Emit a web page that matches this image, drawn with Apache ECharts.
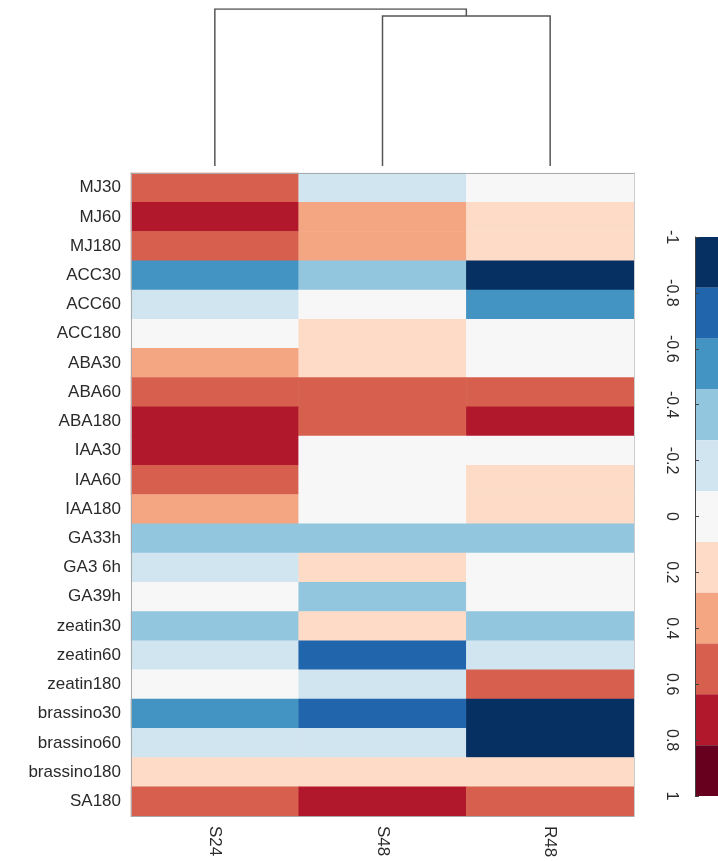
<!DOCTYPE html>
<html>
<head>
<meta charset="utf-8">
<script src="https://cdn.jsdelivr.net/npm/echarts@6/dist/echarts.min.js"></script>
<style>
  html, body { margin: 0; padding: 0; background: #fff; }
  #chart { width: 718px; height: 861px; }
</style>
</head>
<body>
<div id="chart"></div>
<script>
const samples = ["S24", "S48", "R48"];
const treatments = [
  "MJ30", "MJ60", "MJ180", "ACC30", "ACC60", "ACC180", "ABA30", "ABA60",
  "ABA180", "IAA30", "IAA60", "IAA180", "GA33h", "GA3 6h", "GA39h",
  "zeatin30", "zeatin60", "zeatin180", "brassino30", "brassino60",
  "brassino180", "SA180"
];
// correlation per treatment: [S24, S48, R48]
const corr = [
  [0.55, -0.2, 0],
  [0.7, 0.35, 0.2],
  [0.55, 0.35, 0.2],
  [-0.55, -0.35, -0.9],
  [-0.2, 0, -0.55],
  [0, 0.2, 0],
  [0.35, 0.2, 0],
  [0.55, 0.55, 0.55],
  [0.7, 0.55, 0.7],
  [0.7, 0, 0],
  [0.55, 0, 0.2],
  [0.35, 0, 0.2],
  [-0.35, -0.35, -0.35],
  [-0.2, 0.2, 0],
  [0, -0.35, 0],
  [-0.35, 0.2, -0.35],
  [-0.2, -0.7, -0.2],
  [0, -0.2, 0.55],
  [-0.55, -0.7, -0.9],
  [-0.2, -0.2, -0.9],
  [0.2, 0.2, 0.2],
  [0.55, 0.7, 0.55]
];
// RdBu, 11 equal bins from -1 to 1
const palette = [
  "#053061", "#2166ac", "#4393c3", "#92c5de", "#d1e5f0", "#f7f7f7",
  "#fddbc7", "#f4a582", "#d6604d", "#b2182b", "#67001f"
];
// column clustering: x positions (column centres) and merge heights
const dendroLinks = [
  { left: 1.5, right: 2.5, leftH: 0, rightH: 0, height: 1.91 },
  { left: 0.5, right: 2.0, leftH: 0, rightH: 1.91, height: 2.0 }
];

const binWidth = 2 / palette.length;
const pieces = palette.map((color, i) => ({
  gte: -1 + i * binWidth,
  lt: -1 + (i + 1) * binWidth + (i === palette.length - 1 ? 0.001 : 0),
  color
}));

const cells = [];
treatments.forEach((t, r) => {
  samples.forEach((s, c) => cells.push([c, r, corr[r][c]]));
});

const font = "Liberation Sans, Arial, sans-serif";
const chart = echarts.init(document.getElementById("chart"));

chart.setOption({
  animation: false,
  backgroundColor: "#fff",
  textStyle: { fontFamily: font },
  grid: [
    { left: 131, top: 173, width: 503, height: 643 },
    { left: 131, top: 9, width: 503, height: 157 },
    { left: 695, top: 237, width: 40, height: 559 }
  ],
  xAxis: [
    {
      type: "category", data: samples, gridIndex: 0, z: 5,
      axisLine: { show: true, lineStyle: { color: "#aaa" } },
      axisTick: { show: false },
      axisLabel: { rotate: -90, fontSize: 17, color: "#2a2a2a", margin: 10, fontFamily: font }
    },
    { type: "value", gridIndex: 1, min: 0, max: 3, show: false },
    { type: "value", gridIndex: 2, min: 0, max: 1, show: false },
    {
      type: "category", data: samples, gridIndex: 0, position: "top", z: 5,
      axisLine: { show: true, lineStyle: { color: "#aaa" } },
      axisTick: { show: false }, axisLabel: { show: false }
    }
  ],
  yAxis: [
    {
      type: "category", data: treatments, gridIndex: 0, inverse: true, z: 5,
      axisLine: { show: true, lineStyle: { color: "#aaa" } },
      axisTick: { show: false },
      axisLabel: { fontSize: 17, color: "#2a2a2a", margin: 10, fontFamily: font }
    },
    { type: "value", gridIndex: 1, min: 0, max: 2, show: false },
    {
      type: "value", gridIndex: 2, min: -1, max: 1, interval: 0.2, inverse: true,
      position: "left", z: 5,
      splitLine: { show: false },
      axisLine: { show: true, lineStyle: { color: "#444" } },
      axisTick: { show: true, inside: true, length: 4, lineStyle: { color: "#444" } },
      axisLabel: {
        rotate: -90, fontSize: 16, color: "#2a2a2a", margin: 16, fontFamily: font,
        formatter: v => String(Math.round(v * 10) / 10)
      }
    },
    {
      type: "category", data: treatments, gridIndex: 0, inverse: true, position: "right", z: 5,
      axisLine: { show: true, lineStyle: { color: "#ccc" } },
      axisTick: { show: false }, axisLabel: { show: false }
    }
  ],
  visualMap: {
    type: "piecewise", show: false, seriesIndex: 0, dimension: 2, pieces
  },
  series: [
    {
      type: "heatmap", xAxisIndex: 0, yAxisIndex: 0, data: cells,
      itemStyle: { borderWidth: 0 }, z: 1
    },
    {
      type: "lines", coordinateSystem: "cartesian2d", xAxisIndex: 1, yAxisIndex: 1,
      polyline: true, silent: true,
      lineStyle: { color: "#555", width: 1.5, opacity: 1 },
      data: dendroLinks.map(l => ({
        coords: [[l.left, l.leftH], [l.left, l.height], [l.right, l.height], [l.right, l.rightH]]
      }))
    },
    {
      type: "custom", xAxisIndex: 2, yAxisIndex: 2, silent: true,
      data: pieces.map((p, i) => [p.gte, -1 + (i + 1) * binWidth, i]),
      renderItem(params, api) {
        const a = api.coord([0, api.value(0)]);
        const b = api.coord([1, api.value(1)]);
        return {
          type: "rect",
          shape: { x: a[0], y: Math.min(a[1], b[1]), width: b[0] - a[0], height: Math.abs(b[1] - a[1]) },
          style: { fill: palette[api.value(2)] }
        };
      },
      z: 1
    }
  ]
});
</script>
</body>
</html>
